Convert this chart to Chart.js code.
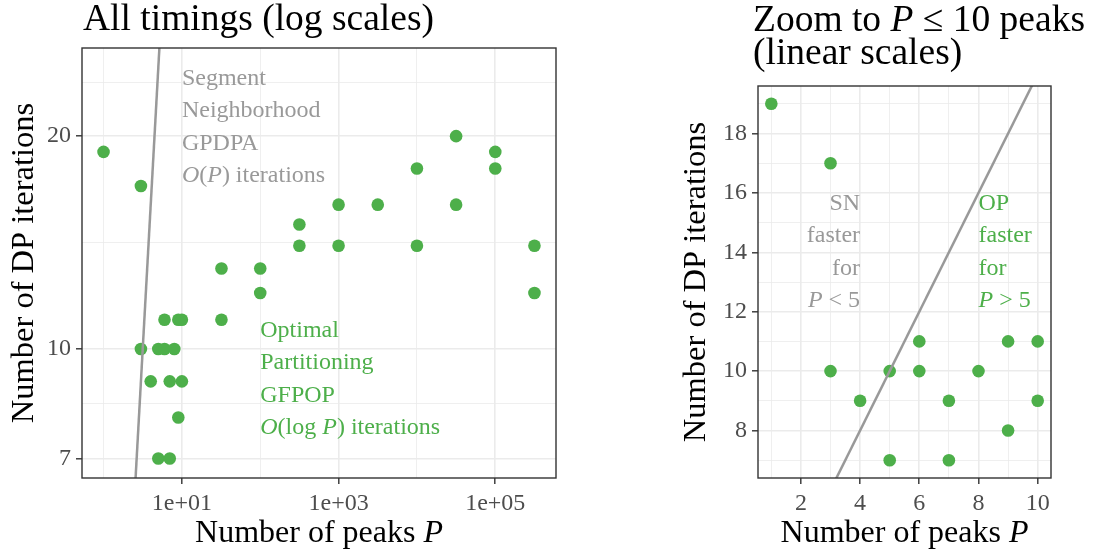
<!DOCTYPE html>
<html>
<head>
<meta charset="utf-8">
<script src="https://cdn.jsdelivr.net/npm/chart.js"></script>
<style>
  html, body { margin: 0; padding: 0; background: #fff; }
  #wrap { position: relative; width: 1109px; height: 552px; }
  canvas { position: absolute; top: 0; }
  #left { left: 0; }
  #right { left: 575px; }
</style>
</head>
<body>
<div id="wrap">
  <canvas id="left" width="575" height="552"></canvas>
  <canvas id="right" width="534" height="552"></canvas>
</div>
<script>
// timings: number of peaks P vs DP iterations
const smallPeaks = [1, 3, 3, 4, 5, 5, 6, 6, 7, 7, 8, 9, 9, 10, 10];
const smallIters = [19, 17, 10, 9, 10, 7, 11, 10, 9, 7, 10, 11, 8, 11, 9];
const bigPeaks = [32, 32, 100, 100, 316, 316, 1000, 1000, 3162, 10000, 10000, 31623, 31623, 100000, 100000, 316228, 316228];
const bigIters = [13, 11, 13, 12, 15, 14, 16, 14, 16, 18, 14, 20, 16, 19, 18, 14, 12];

// SN reference line (abline slope 2 in each panel's own coordinates)
const refLogX = [2, 6], refLogY = [4, 36];
const refLinX = [2, 11], refLinY = [4, 22];

// tick values
const logXMajor = [10, 1000, 100000];
const logXLabels = ['1e+01', '1e+03', '1e+05'];
const logXMinor = [1, 100, 10000];
const logYMajor = [7, 10, 20];
const logYMinor = [8.37, 14.14, 23.8];
const linXMajor = [2, 4, 6, 8, 10];
const linXMinor = [1, 3, 5, 7, 9];
const linYMajor = [8, 10, 12, 14, 16, 18];
const linYMinor = [7, 9, 11, 13, 15, 17, 19];

const GREEN = '#4daf4a';
const GREY = '#999999';
const FONT = "'Liberation Serif', serif";
Chart.defaults.font.family = FONT;

// text pieces: [text, italic]
const xTitle = [['Number of peaks ', 0], ['P', 1]];
const yTitle = [['Number of DP iterations', 0]];
const snLeft = [[['Segment', 0]], [['Neighborhood', 0]], [['GPDPA', 0]], [['O', 1], ['(', 0], ['P', 1], [') iterations', 0]]];
const opLeft = [[['Optimal', 0]], [['Partitioning', 0]], [['GFPOP', 0]], [['O', 1], ['(log ', 0], ['P', 1], [') iterations', 0]]];
const snRight = [[['SN', 0]], [['faster', 0]], [['for', 0]], [['P', 1], [' < 5', 0]]];
const opRight = [[['OP', 0]], [['faster', 0]], [['for', 0]], [['P', 1], [' > 5', 0]]];

function rich(ctx, parts, x, y, align, size, color) {
    const fontOf = it => (it ? 'italic ' : '') + size + 'px ' + FONT;
    let w = 0;
    parts.forEach(p => { ctx.font = fontOf(p[1]); w += ctx.measureText(p[0]).width; });
    let cx = align === 'left' ? x : align === 'right' ? x - w : x - w / 2;
    ctx.fillStyle = color;
    ctx.textBaseline = 'alphabetic';
    ctx.textAlign = 'left';
    parts.forEach(p => {
        ctx.font = fontOf(p[1]);
        ctx.fillText(p[0], cx, y);
        cx += ctx.measureText(p[0]).width;
    });
}

const ggDecor = {
    id: 'ggDecor',
    afterDraw(chart, args, o) {
        const ctx = chart.ctx, a = chart.chartArea;
        ctx.save();
        ctx.strokeStyle = '#333333';
        ctx.lineWidth = 1.4;
        ctx.strokeRect(a.left, a.top, a.right - a.left, a.bottom - a.top);

        o.notes.forEach(n => {
            const px = chart.scales.x.getPixelForValue(n.x);
            const py = chart.scales.y.getPixelForValue(n.y);
            n.lines.forEach((parts, i) => rich(ctx, parts, px, py + 17 + i * 32.5, n.align, 24, n.color));
        });

        o.title.forEach((parts, i) => rich(ctx, parts, o.titleX, o.titleY + i * 33, 'left', 37.5, '#000'));
        rich(ctx, xTitle, (a.left + a.right) / 2, 542, 'center', 32, '#000');
        ctx.translate(o.yTitleX, (a.top + a.bottom) / 2);
        ctx.rotate(-Math.PI / 2);
        rich(ctx, yTitle, 0, 0, 'center', 32.5, '#000');
        ctx.restore();
    }
};

function tickAxis(major, minor, labelOf, extra) {
    const all = major.concat(minor).sort((p, q) => p - q);
    const isMajor = v => major.some(m => Math.abs(m - v) < 1e-9);
    return Object.assign({
        afterBuildTicks: ax => { ax.ticks = all.map(v => ({ value: v })); },
        ticks: {
            autoSkip: false, maxRotation: 0, color: '#4d4d4d', font: { size: 24 }, padding: 5,
            callback: v => isMajor(v) ? labelOf(v) : ''
        },
        grid: {
            color: '#ebebeb',
            lineWidth: c => (c.tick && isMajor(c.tick.value)) ? 1.6 : 0.8,
            tickColor: c => (c.tick && isMajor(c.tick.value)) ? '#333333' : 'rgba(0,0,0,0)',
            tickLength: 6,
            tickWidth: 1.4
        },
        border: { display: false }
    }, extra);
}

const pts = (xs, ys) => xs.map((x, i) => ({ x: x, y: ys[i] }));

function makeChart(id, refData, pointData, pad, scales, decor) {
    return new Chart(document.getElementById(id), {
        type: 'scatter',
        data: {
            datasets: [
                { type: 'line', data: refData, borderColor: GREY, borderWidth: 2.5, pointRadius: 0, clip: 0, order: 0, tension: 0 },
                { data: pointData, backgroundColor: GREEN, borderWidth: 0, pointRadius: 6.3, pointHoverRadius: 6.3, order: 1, clip: false }
            ]
        },
        options: {
            responsive: false,
            animation: false,
            events: [],
            layout: { padding: pad },
            plugins: { legend: { display: false }, tooltip: { enabled: false }, ggDecor: decor },
            scales: scales
        },
        plugins: [ggDecor]
    });
}

// left panel: all timings, log scales
makeChart('left',
    pts(refLogX, refLogY),
    pts(smallPeaks.concat(bigPeaks), smallIters.concat(bigIters)),
    { top: 48, right: 19, left: 0, bottom: 0 },
    {
        x: tickAxis(logXMajor, logXMinor, v => logXLabels[logXMajor.indexOf(v)],
            { type: 'logarithmic', min: 0.5309, max: 595662, afterFit: s => { s.height = 74; } }),
        y: tickAxis(logYMajor, logYMinor, v => String(v),
            { type: 'logarithmic', min: 6.57, max: 26.65, afterFit: s => { s.width = 82; } })
    },
    {
        title: [[['All timings (log scales)', 0]]], titleX: 83, titleY: 30, yTitleX: 33,
        notes: [
            { x: 10, y: 25, align: 'left', color: GREY, lines: snLeft },
            { x: 100, y: 11, align: 'left', color: GREEN, lines: opLeft }
        ]
    });

// right panel: zoom to P <= 10, linear scales
makeChart('right',
    pts(refLinX, refLinY),
    pts(smallPeaks, smallIters),
    { top: 86, right: 58, left: 0, bottom: 0 },
    {
        x: tickAxis(linXMajor, linXMinor, v => String(v),
            { type: 'linear', min: 0.55, max: 10.45, afterFit: s => { s.height = 74; } }),
        y: tickAxis(linYMajor, linYMinor, v => String(v),
            { type: 'linear', min: 6.4, max: 19.6, afterFit: s => { s.width = 183; } })
    },
    {
        title: [[['Zoom to ', 0], ['P', 1], [' \u2264 10 peaks', 0]], [['(linear scales)', 0]]],
        titleX: 178, titleY: 31, yTitleX: 130,
        notes: [
            { x: 4, y: 16, align: 'right', color: GREY, lines: snRight },
            { x: 8, y: 16, align: 'left', color: GREEN, lines: opRight }
        ]
    });
</script>
</body>
</html>
